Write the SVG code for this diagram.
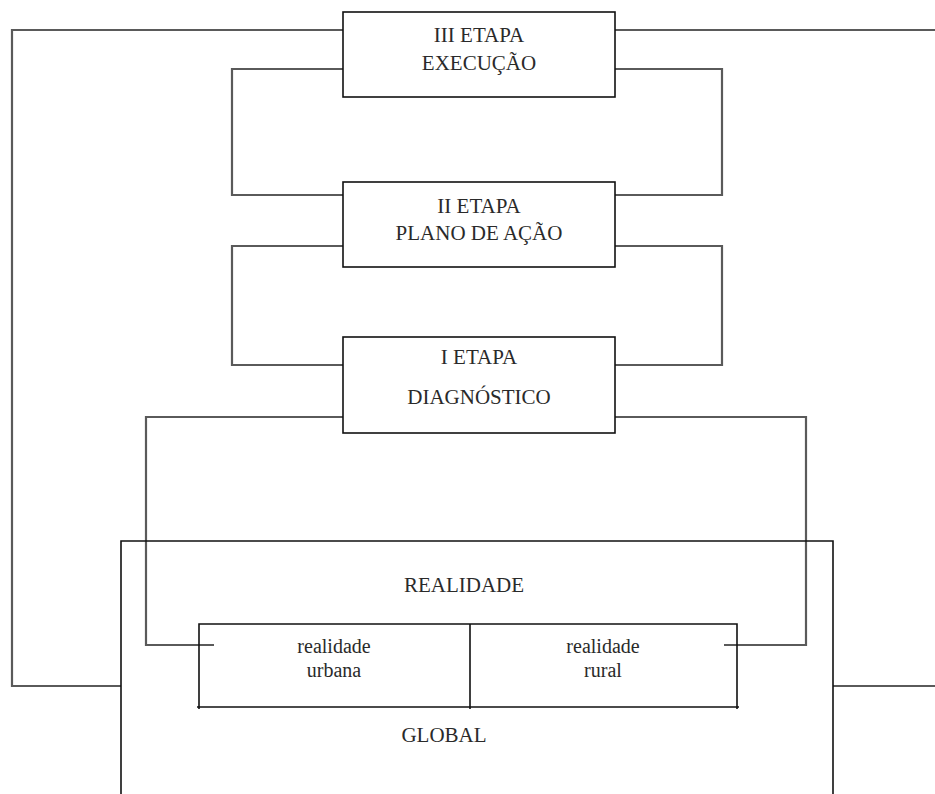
<svg xmlns="http://www.w3.org/2000/svg" width="935" height="794" viewBox="0 0 935 794">
<style>
.conn{fill:none;stroke:#5a5a5a;stroke-width:2.2}
.box{fill:#fff;stroke:#111;stroke-width:1.6}
.frame{fill:none;stroke:#111;stroke-width:1.6}
text{font-family:"Liberation Serif","Times New Roman",serif;fill:#2a2a2a;text-anchor:middle;font-size:21px}
.sm{font-size:20px}
</style>
<rect width="935" height="794" fill="#fff"/>
<g id="connectors">
<path class="conn" d="M343 30 H12 V686 H121"/>
<path class="conn" d="M615 30 H935"/>
<path class="conn" d="M833 686 H935"/>
<path class="conn" d="M343 69 H232 V195 H343"/>
<path class="conn" d="M615 69 H722 V195 H615"/>
<path class="conn" d="M343 246 H232 V365 H343"/>
<path class="conn" d="M615 246 H722 V365 H615"/>
<path class="conn" d="M343 417 H146 V645 H214"/>
<path class="conn" d="M615 417 H806 V645 H724"/>
</g>
<g id="global">
<path class="frame" d="M121 800 V541 H833 V800"/>
<text x="464" y="592">REALIDADE</text>
<text x="444" y="742">GLOBAL</text>
</g>
<g id="inner">
<path class="frame" d="M199 709 V624 H737 V709 M197 707 H739 M470 624 V709"/>
</g>
<g id="urbana">
<text class="sm" x="334" y="653">realidade</text>
<text class="sm" x="334" y="677">urbana</text>
</g>
<g id="rural">
<text class="sm" x="603" y="653">realidade</text>
<text class="sm" x="603" y="677">rural</text>
</g>
<g id="etapa3">
<rect class="box" x="343" y="12" width="272" height="85"/>
<text x="479" y="42">III ETAPA</text>
<text x="479" y="70">EXECUÇÃO</text>
</g>
<g id="etapa2">
<rect class="box" x="343" y="182" width="272" height="85"/>
<text x="479" y="213">II ETAPA</text>
<text x="479" y="240">PLANO DE AÇÃO</text>
</g>
<g id="etapa1">
<rect class="box" x="343" y="337" width="272" height="96"/>
<text x="479" y="364">I ETAPA</text>
<text x="479" y="404">DIAGNÓSTICO</text>
</g>
</svg>
